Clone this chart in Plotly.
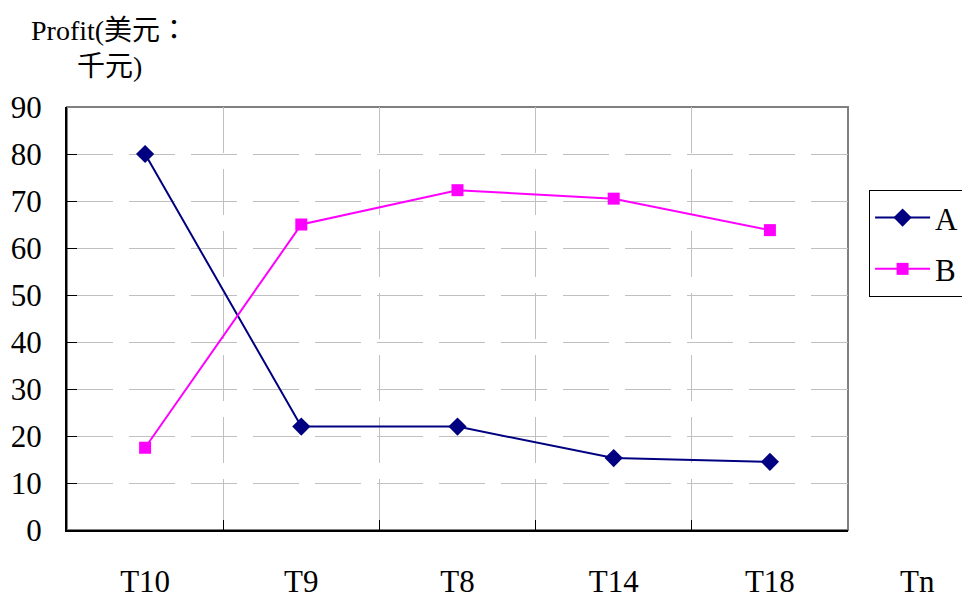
import plotly.graph_objects as go

categories = ["T10", "T9", "T8", "T14", "T18"]
series_a = [80, 22, 22, 15.3, 14.5]
series_b = [17.5, 65, 72.3, 70.5, 63.8]
y_ticks = [0, 10, 20, 30, 40, 50, 60, 70, 80, 90]

FONT = "Liberation Serif, Times New Roman, Noto Sans CJK TC, serif"

fig = go.Figure()
fig.add_trace(go.Scatter(
    x=categories, y=series_a, name="A", mode="lines+markers",
    line=dict(color="#000080", width=2),
    marker=dict(symbol="diamond", size=14, color="#000080"),
    legendgroup="a",
))
fig.add_trace(go.Scatter(
    x=categories, y=series_b, name="B", mode="lines+markers",
    line=dict(color="#FF00FF", width=2),
    marker=dict(symbol="square", size=12, color="#FF00FF"),
    legendgroup="b",
))

fig.add_shape(type="rect", xref="paper", yref="paper", x0=0, x1=1, y0=0, y1=1,
              line=dict(color="#808080", width=2), layer="below")

# page body has an 8px margin, so the figure is shrunk/offset accordingly
fig.update_layout(
    width=962, height=591,
    margin=dict(l=59, r=122, t=99, b=69, autoexpand=False),
    paper_bgcolor="white", plot_bgcolor="white",
    font=dict(family=FONT, size=31, color="black"),
    showlegend=True,
    legend=dict(x=1.027, y=0.804, xanchor="left", yanchor="top",
                bordercolor="black", borderwidth=1, bgcolor="white",
                font=dict(size=31), tracegroupgap=8, traceorder="grouped",
                itemwidth=55),
    xaxis=dict(
        type="category", categoryorder="array", categoryarray=categories,
        range=[-0.5, len(categories) - 0.5],
        tickson="boundaries", ticks="inside", ticklen=10,
        tickcolor="black", showline=True, linecolor="black", linewidth=2,
        showgrid=True, gridcolor="#c0c0c0", gridwidth=1, griddash="46px,16px",
        ticklabelstandoff=23, zeroline=False, automargin=False,
    ),
    yaxis=dict(
        range=[0, 90], tickvals=y_ticks, ticks="inside", ticklen=10,
        tickcolor="black", showline=True, linecolor="black", linewidth=2,
        showgrid=True, gridcolor="#c0c0c0", gridwidth=1, griddash="46px,16px",
        ticklabelstandoff=17, zeroline=False, automargin=False,
    ),
    annotations=[
        dict(text="Profit(美元：<br>千元)", xref="paper", yref="paper",
             x=0.054, y=1.139, xanchor="center", yanchor="middle",
             showarrow=False, align="center", font=dict(size=28)),
        dict(text="Tn", xref="paper", yref="paper",
             x=(917 - 67) / 781, y=-(581 - 530) / 423, xanchor="center",
             yanchor="middle", showarrow=False, font=dict(size=31)),
    ],
)

fig.write_html("out.html")
